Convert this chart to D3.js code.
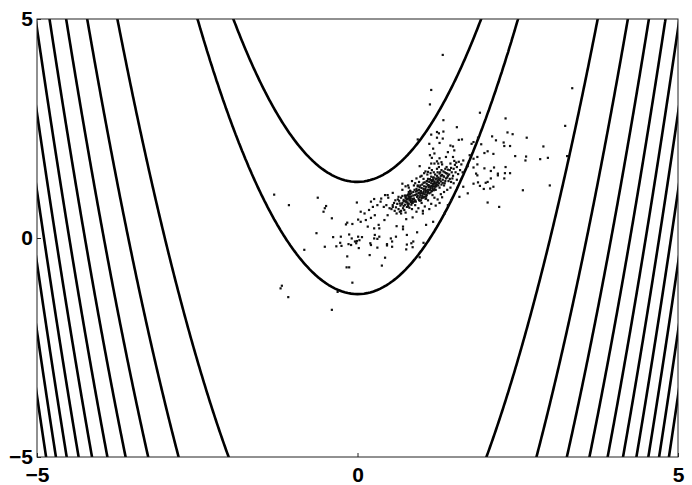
<!DOCTYPE html>
<html>
<head>
<meta charset="utf-8">
<script src="https://cdn.jsdelivr.net/npm/d3@7"></script>
<style>
    body { margin: 0; background: #fff; }
    text { font-family: "Liberation Sans", Arial, sans-serif; font-weight: bold; font-size: 21px; }
</style>
</head>
<body>
<div id="chart"></div>
<script>
// tick values
var xTicks = [-5, 0, 5];
var yTicks = [-5, 0, 5];

// contour levels of the Rosenbrock surface (1-x)^2 + 100(y-x^2)^2
var contourLevels = [165, 8185, 16370, 24555, 32740, 40925, 49110, 57295, 65480, 73665, 81850];

// scattered samples, outer part
var outerSamples = [
    [1.33, 4.18], [1.15, 3.38], [1.13, 3.05], [3.35, 3.42], [1.91, 2.86], [1.34, 2.69], [2.31, 2.73],
    [1.55, 2.53], [3.24, 2.56], [1.24, 2.42], [1.27, 2.39], [1.34, 2.43], [2.34, 2.41], [2.42, 2.37],
    [2.10, 2.32], [2.64, 2.29], [1.93, 2.14], [2.16, 2.23], [2.28, 2.18], [2.29, 2.10], [2.38, 2.10],
    [2.90, 2.09], [2.03, 1.98], [1.98, 1.94], [2.12, 1.92], [2.46, 1.87], [2.63, 1.86], [2.62, 1.77],
    [2.85, 1.80], [2.97, 1.83], [3.27, 1.87], [1.87, 1.85], [1.87, 1.68], [2.31, 1.62], [2.13, 1.61],
    [1.98, 1.59], [2.08, 1.53], [2.19, 1.47], [2.19, 1.43], [2.30, 1.48], [2.38, 1.48], [1.87, 1.43],
    [2.29, 1.36], [2.08, 1.36], [1.88, 1.27], [1.91, 1.19], [2.00, 1.26], [2.03, 1.28], [2.12, 1.17],
    [2.07, 1.13], [1.97, 1.12], [3.00, 1.20], [2.58, 1.09], [2.03, 0.81], [2.21, 0.71], [1.63, 2.25],
    [1.78, 2.15], [1.45, 2.11], [1.33, 2.27], [0.94, 2.25], [1.15, 2.36], [1.24, 2.29], [1.28, 2.17],
    [1.12, 2.15], [1.58, 2.24], [1.81, 2.19], [1.88, 2.29], [1.18, 2.04], [1.41, 1.96], [1.51, 2.00],
    [1.13, 1.89], [1.16, 1.83], [1.38, 1.85], [1.49, 1.85], [1.54, 1.72], [1.65, 1.77], [1.75, 1.89],
    [1.81, 1.81], [0.97, 1.64], [1.26, 1.70], [1.72, 1.64], [1.81, 1.61], [1.85, 1.47], [1.81, 1.24],
    [1.65, 1.17], [1.72, 1.02], [1.59, 0.94], [0.70, 1.24], [0.79, 1.20], [0.55, 1.03], [0.47, 0.98],
    [0.55, 0.71], [0.68, 0.56], [0.76, 0.43], [0.86, 0.47], [1.02, 0.56], [1.18, 0.37], [1.07, 0.30],
    [0.71, 0.26], [1.36, 0.56], [1.41, 0.75], [1.46, 0.86], [1.10, 1.51], [1.15, 1.70], [1.31, 1.73],
    [1.49, 2.09], [1.20, 1.93],
    [-1.30, 0.99], [-1.07, 0.75], [-0.62, 0.92], [-0.49, 0.73], [-0.51, 0.68], [-0.53, 0.60],
    [-0.40, 0.45], [-0.64, 0.11], [-0.83, -0.27], [-0.51, -0.20], [-0.38, 0.02], [-0.33, -0.19],
    [-0.26, 0.03], [-0.25, -0.18], [-0.27, -0.11], [-0.16, -0.42], [-0.17, -0.67], [-0.13, -0.67],
    [-0.08, -1.02], [-0.31, -1.23], [-1.18, -1.09], [-1.20, -1.15], [-1.08, -1.35], [-0.40, -1.64],
    [0.19, -0.39], [0.43, -0.45], [0.38, -0.63], [-0.01, 0.81], [-0.16, 0.35], [-0.08, 0.32],
    [-0.13, 0.08], [-0.09, -0.01], [0.01, 0.03], [-0.01, -0.07], [-0.02, -0.12], [0.03, -0.05],
    [-0.04, -0.08], [0.07, 0.02], [-0.14, -0.14], [0.02, -0.23], [0.20, -0.12], [0.21, -0.16],
    [0.31, -0.22], [0.26, -0.01], [0.34, 0.03], [0.16, 0.26], [0.01, 0.42], [0.05, 0.37], [0.13, 0.41],
    [0.21, 0.46], [0.27, 0.52], [0.18, 0.64], [0.11, 0.56], [0.05, 0.60], [0.24, 0.71], [0.31, 0.75],
    [0.36, 0.83], [0.37, 0.90], [0.43, 0.98], [0.48, 0.92], [0.26, 0.89], [0.21, 0.83], [0.33, 0.30],
    [0.26, 0.22], [0.34, 0.22], [0.42, 0.41], [0.47, 0.52], [0.50, 0.68], [0.45, 0.75], [0.41, 0.71],
    [-0.10, -0.16], [0.27, 0.07], [0.31, -0.02], [0.46, -0.17], [-0.18, 0.31], [0.97, -0.44],
    [0.76, -0.26], [0.86, -0.21], [0.77, -0.15], [1.03, -0.11], [0.93, 0.13], [0.52, -0.01],
    [0.54, -0.08], [0.60, 0.03], [0.46, -0.14], [0.54, -0.20], [0.77, 0.07], [0.71, 0.20],
    [0.61, 0.27], [0.84, -0.12], [0.87, -0.08]
];

// scattered samples, dense core near (1, 1)
var coreSamples = [
    [0.72, 0.84], [0.75, 0.92], [0.78, 0.78], [0.8, 1.0], [0.82, 0.87], [0.84, 0.95], [0.85, 0.8],
    [0.87, 1.05], [0.88, 0.9], [0.9, 0.98], [0.91, 0.83], [0.92, 1.12], [0.93, 0.94], [0.95, 1.03],
    [0.96, 0.87], [0.97, 1.16], [0.98, 0.97], [0.99, 1.07], [1.0, 0.91], [1.01, 1.22], [1.02, 1.01],
    [1.03, 1.12], [1.04, 0.94], [1.05, 1.27], [1.06, 1.05], [1.07, 1.17], [1.08, 0.98], [1.09, 1.3],
    [1.1, 1.1], [1.11, 1.21], [1.12, 1.02], [1.13, 1.34], [1.14, 1.14], [1.15, 1.25], [1.16, 1.07],
    [1.18, 1.38], [1.19, 1.18], [1.2, 1.29], [1.22, 1.1], [1.24, 1.22], [1.26, 1.34], [1.28, 1.15],
    [0.74, 0.97], [0.77, 0.88], [0.79, 0.72], [0.81, 0.93], [0.83, 1.06], [0.86, 0.89], [0.89, 1.1],
    [0.9, 0.86], [0.92, 1.0], [0.94, 1.2], [0.95, 0.9], [0.97, 1.04], [0.99, 0.86], [1.0, 1.14],
    [1.02, 0.92], [1.03, 1.26], [1.05, 1.0], [1.06, 1.12], [1.08, 1.24], [1.09, 1.03], [1.11, 1.16],
    [1.12, 1.28], [1.14, 1.04], [1.16, 1.19], [1.17, 1.31], [1.19, 1.09], [1.21, 1.24], [1.23, 1.36],
    [0.76, 0.83], [0.8, 0.9], [0.84, 0.84], [0.87, 0.97], [0.91, 1.06], [0.94, 0.97], [0.96, 1.1],
    [0.98, 1.01], [1.01, 0.96], [1.03, 1.05], [1.04, 1.18], [1.07, 1.08], [1.1, 1.2], [1.13, 1.1],
    [1.15, 1.32], [1.18, 1.24], [0.88, 0.83], [0.93, 1.08], [0.97, 0.93], [1.0, 1.03], [1.04, 1.1],
    [1.07, 0.95], [1.1, 1.05], [1.13, 1.18], [1.17, 1.12], [1.21, 1.17], [0.82, 1.0], [0.98, 1.2],
    [1.06, 0.9], [1.25, 1.28],
    [0.6, 0.7], [0.62, 0.78], [0.64, 0.66], [0.65, 0.85], [0.67, 0.74], [0.68, 0.92], [0.7, 0.8],
    [0.71, 0.68], [0.72, 0.87], [0.74, 0.76], [0.75, 0.95], [0.76, 0.83], [0.77, 0.71], [0.78, 0.9],
    [0.79, 0.99], [0.8, 0.78], [0.81, 0.86], [0.82, 0.94], [0.83, 0.82], [0.84, 1.02], [0.58, 0.62],
    [0.63, 0.88], [0.66, 0.6], [0.69, 0.77], [0.73, 0.64], [0.76, 0.9], [0.79, 0.73], [0.82, 0.88],
    [0.85, 0.84], [0.7, 0.96], [0.74, 0.84], [0.78, 0.81], [0.8, 0.95], [0.83, 0.9], [0.57, 0.8],
    [0.61, 0.56], [0.66, 0.79], [0.72, 0.73], [0.77, 0.97], [0.81, 0.69], [0.53, 0.66], [0.55, 0.75],
    [0.59, 0.86], [0.64, 0.94], [0.68, 0.62], [0.75, 0.58], [0.8, 1.05], [0.86, 0.8], [0.87, 0.88],
    [0.84, 0.76],
    [1.16, 1.3], [1.18, 1.22], [1.19, 1.38], [1.2, 1.27], [1.22, 1.34], [1.23, 1.18], [1.24, 1.42],
    [1.25, 1.3], [1.27, 1.25], [1.28, 1.47], [1.29, 1.36], [1.3, 1.29], [1.32, 1.44], [1.33, 1.33],
    [1.34, 1.52], [1.35, 1.4], [1.37, 1.3], [1.38, 1.48], [1.4, 1.38], [1.41, 1.56], [1.43, 1.45],
    [1.44, 1.35], [1.46, 1.6], [1.47, 1.5], [1.49, 1.42], [1.5, 1.58], [1.52, 1.67], [1.53, 1.5],
    [1.55, 1.62], [1.57, 1.46], [1.17, 1.16], [1.21, 1.45], [1.26, 1.2], [1.31, 1.55], [1.36, 1.25],
    [1.39, 1.62], [1.42, 1.3], [1.45, 1.7], [1.48, 1.36], [1.51, 1.76], [1.18, 1.33], [1.2, 1.12],
    [1.23, 1.26], [1.26, 1.38], [1.29, 1.5], [1.31, 1.22], [1.34, 1.41], [1.37, 1.58], [1.4, 1.47],
    [1.44, 1.55], [1.22, 1.2], [1.25, 1.5], [1.28, 1.32], [1.3, 1.42], [1.33, 1.26], [1.36, 1.5],
    [1.38, 1.36], [1.41, 1.42], [1.6, 1.55], [1.62, 1.68], [1.58, 1.74], [1.64, 1.5], [1.27, 1.62],
    [1.32, 1.68], [1.19, 1.5], [1.24, 1.58], [1.15, 1.4], [1.13, 1.34], [1.35, 1.2], [1.46, 1.28],
    [0.9, 0.75], [0.95, 0.68], [1.0, 0.8], [1.05, 0.72], [1.1, 0.86], [1.15, 0.78], [1.2, 0.92],
    [1.25, 0.88], [1.3, 1.0], [1.35, 1.05], [1.4, 1.1], [1.45, 1.15], [0.92, 0.6], [1.02, 0.62],
    [1.12, 0.66], [1.22, 0.74], [1.28, 0.8], [0.85, 0.66], [0.97, 0.85], [1.07, 0.9], [1.17, 0.98],
    [1.32, 0.93], [1.5, 1.25], [1.55, 1.33],
    [0.7, 1.1], [0.75, 1.18], [0.8, 1.15], [0.85, 1.3], [0.88, 1.2], [0.92, 1.36], [0.96, 1.28],
    [1.0, 1.42], [1.03, 1.35], [1.06, 1.52], [1.09, 1.45], [1.12, 1.6], [1.16, 1.55], [1.2, 1.7],
    [1.24, 1.75], [1.28, 1.82], [0.9, 1.25], [0.98, 1.4], [1.04, 1.48], [1.08, 1.3], [1.14, 1.48],
    [0.82, 1.08], [0.94, 1.18], [1.1, 1.35]
];

var totalWidth = 692, totalHeight = 485;
var margin = { top: 19, right: 14, bottom: 28, left: 37 };
var width = totalWidth - margin.left - margin.right;
var height = totalHeight - margin.top - margin.bottom;

function rosenbrock(x, y) {
    return (1 - x) * (1 - x) + 100 * (y - x * x) * (y - x * x);
}

const svg = d3.select("#chart")
    .append("svg")
    .attr("width", totalWidth)
    .attr("height", totalHeight);

const x = d3.scaleLinear().domain([-5, 5]).range([margin.left, margin.left + width]);
const y = d3.scaleLinear().domain([-5, 5]).range([margin.top + height, margin.top]);

svg.append("clipPath")
    .attr("id", "plotClip")
    .append("rect")
    .attr("x", margin.left)
    .attr("y", margin.top)
    .attr("width", width)
    .attr("height", height);

// grid a bit larger than the view so the contour rings close outside it
var step = 0.05, g0 = -5.5, n = 221;
var values = new Array(n * n);
for (var j = 0; j < n; j++) {
    for (var i = 0; i < n; i++) {
        values[j * n + i] = rosenbrock(g0 + i * step, g0 + j * step);
    }
}

var contours = d3.contours()
    .size([n, n])
    .thresholds(contourLevels)(values);

var proj = d3.geoTransform({
    point: function (gx, gy) {
        this.stream.point(x(g0 + (gx - 0.5) * step), y(g0 + (gy - 0.5) * step));
    }
});
var path = d3.geoPath(proj);

svg.append("g")
    .attr("clip-path", "url(#plotClip)")
    .selectAll("path")
    .data(contours)
    .join("path")
    .attr("d", path)
    .attr("fill", "none")
    .attr("stroke", "#000")
    .attr("stroke-width", 2.6)
    .attr("stroke-linejoin", "round");

// samples
var r = 1.1;
svg.append("g")
    .attr("clip-path", "url(#plotClip)")
    .selectAll("rect")
    .data(outerSamples.concat(coreSamples))
    .join("rect")
    .attr("x", function (d) { return x(d[0]) - r; })
    .attr("y", function (d) { return y(d[1]) - r; })
    .attr("width", 2 * r)
    .attr("height", 2 * r)
    .attr("fill", "#111");

// frame
svg.append("rect")
    .attr("x", margin.left)
    .attr("y", margin.top)
    .attr("width", width)
    .attr("height", height)
    .attr("fill", "none")
    .attr("stroke", "#222")
    .attr("stroke-width", 1);

var fmt = function (d) { return d < 0 ? "\u2212" + Math.abs(d) : "" + d; };

var xAxis = svg.append("g")
    .attr("transform", `translate(0, ${margin.top + height})`)
    .call(d3.axisBottom(x).tickValues(xTicks).tickFormat(fmt).tickSizeInner(-4).tickSizeOuter(0).tickPadding(10));
xAxis.select(".domain").remove();
xAxis.selectAll("text").attr("font-size", null).attr("font-family", null).attr("fill", "#000");
xAxis.selectAll("line").attr("stroke", "#222");

var yAxis = svg.append("g")
    .attr("transform", `translate(${margin.left}, 0)`)
    .call(d3.axisLeft(y).tickValues(yTicks).tickFormat(fmt).tickSizeInner(-4).tickSizeOuter(0).tickPadding(4));
yAxis.select(".domain").remove();
yAxis.selectAll("text").attr("font-size", null).attr("font-family", null).attr("fill", "#000");
yAxis.selectAll("line").attr("stroke", "#222");
</script>
</body>
</html>
